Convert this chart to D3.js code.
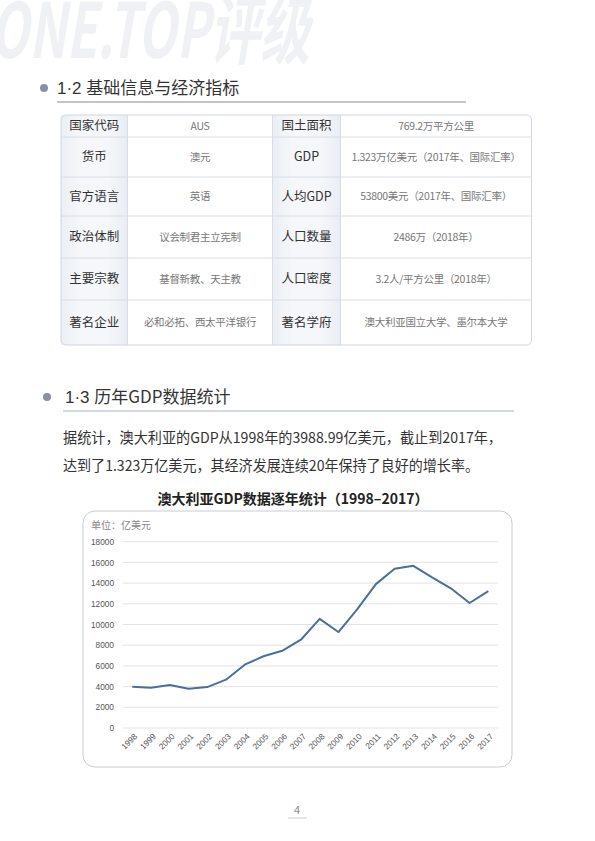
<!DOCTYPE html>
<html><head><meta charset="utf-8">
<script src="https://cdn.jsdelivr.net/npm/d3@7"></script>
<style>
html,body{margin:0;padding:0;background:#fff;}
svg{display:block;font-family:"Noto Sans CJK SC","Noto Sans",sans-serif;}
</style></head>
<body>
<script>
const years = ["1998","1999","2000","2001","2002","2003","2004","2005","2006","2007","2008","2009","2010","2011","2012","2013","2014","2015","2016","2017"];
const gdp = [3989,3890,4150,3790,3950,4670,6120,6930,7460,8530,10540,9270,11460,13900,15380,15670,14550,13500,12080,13230];
const yTicks = [0,2000,4000,6000,8000,10000,12000,14000,16000,18000];
const tableLeftLabels = ["国家代码","货币","官方语言","政治体制","主要宗教","著名企业"];
const tableLeftValues = ["AUS","澳元","英语","议会制君主立宪制","基督新教、天主教","必和必拓、西太平洋银行"];
const tableRightLabels = ["国土面积","GDP","人均GDP","人口数量","人口密度","著名学府"];
const tableRightValues = ["769.2万平方公里","1.323万亿美元（2017年、国际汇率）","53800美元（2017年、国际汇率）","2486万（2018年）","3.2人/平方公里（2018年）","澳大利亚国立大学、墨尔本大学"];
const chartTitle = "澳大利亚GDP数据逐年统计（1998–2017）";
const unitLabel = "单位：亿美元";

const W = 595, H = 841;
const svg = d3.select("body").append("svg").attr("width", W).attr("height", H);

// watermark
svg.append("text").attr("x", -10).attr("y", 58)
  .attr("textLength", 320).attr("lengthAdjust", "spacingAndGlyphs")
  .attr("font-size", 76).attr("font-weight", "bold").attr("font-style", "italic")
  .attr("font-family", "'Liberation Sans Narrow','Noto Sans CJK SC',sans-serif")
  .attr("fill", "#eff1f4").text("ONE.TOP评级");

// section header helper
function section(cx, cy, tx, ty, num, text, lx1, lx2, ly, lineColor) {
  svg.append("circle").attr("cx", cx).attr("cy", cy).attr("r", 4).attr("fill", "#8a8ea6");
  const t = svg.append("text").attr("x", tx).attr("y", ty).attr("font-size", 17).attr("fill", "#333");
  t.append("tspan").attr("font-family", "'Liberation Sans',sans-serif").text(num + " ");
  t.append("tspan").text(text);
  svg.append("line").attr("x1", lx1).attr("x2", lx2).attr("y1", ly).attr("y2", ly)
    .attr("stroke", lineColor).attr("stroke-width", 1);
}
section(44, 88, 57, 94, "1·2", "基础信息与经济指标", 57, 466, 102, "#8c8c8c");
section(47, 397, 65, 403, "1·3", "历年GDP数据统计", 63, 514, 411, "#a7b3c2");

// table
const colX = [61, 127.5, 272.5, 340.5, 531.5];
const rowY = [115, 137, 177, 216, 258, 300, 345];
const tg = svg.append("g");
const defs = svg.append("defs");
const grad = defs.append("linearGradient").attr("id", "lg").attr("x1", 0).attr("x2", 1);
grad.append("stop").attr("offset", "0%").attr("stop-color", "#ebeff4");
grad.append("stop").attr("offset", "30%").attr("stop-color", "#f5f7fa");
grad.append("stop").attr("offset", "70%").attr("stop-color", "#f5f7fa");
grad.append("stop").attr("offset", "100%").attr("stop-color", "#e9edf3");
[0, 2].forEach(ci => {
  tg.append("rect").attr("x", colX[ci]).attr("y", rowY[0]).attr("width", colX[ci + 1] - colX[ci])
    .attr("height", rowY[6] - rowY[0]).attr("fill", "url(#lg)");
});
for (let r = 1; r < 6; r++) {
  tg.append("line").attr("x1", colX[0]).attr("x2", colX[4]).attr("y1", rowY[r]).attr("y2", rowY[r])
    .attr("stroke", "#d8dee6");
}
for (let c = 1; c < 4; c++) {
  tg.append("line").attr("x1", colX[c]).attr("x2", colX[c]).attr("y1", rowY[0]).attr("y2", rowY[6])
    .attr("stroke", "#d8dee6");
}
tg.append("rect").attr("x", colX[0]).attr("y", rowY[0]).attr("width", colX[4] - colX[0])
  .attr("height", rowY[6] - rowY[0]).attr("rx", 5).attr("fill", "none").attr("stroke", "#cfd6df");
function cellText(ci, ri, txt, isLabel) {
  const cx = (colX[ci] + colX[ci + 1]) / 2, cy = (rowY[ri] + rowY[ri + 1]) / 2;
  tg.append("text").attr("x", cx).attr("y", cy).attr("dy", "0.35em").attr("text-anchor", "middle")
    .attr("font-size", isLabel ? 12.5 : 10.5).attr("fill", isLabel ? "#333" : "#777")
    .attr("letter-spacing", isLabel ? 0 : -0.3).text(txt);
}
tableLeftLabels.forEach((t, i) => cellText(0, i, t, true));
tableLeftValues.forEach((t, i) => cellText(1, i, t, false));
tableRightLabels.forEach((t, i) => cellText(2, i, t, true));
tableRightValues.forEach((t, i) => cellText(3, i, t, false));

// paragraph
svg.append("text").attr("x", 63).attr("y", 443).attr("font-size", 14.6).attr("fill", "#333")
  .attr("textLength", 439).attr("lengthAdjust", "spacingAndGlyphs")
  .text("据统计，澳大利亚的GDP从1998年的3988.99亿美元，截止到2017年，");
svg.append("text").attr("x", 63).attr("y", 471).attr("font-size", 14.6).attr("fill", "#333")
  .attr("textLength", 416).attr("lengthAdjust", "spacingAndGlyphs")
  .text("达到了1.323万亿美元，其经济发展连续20年保持了良好的增长率。");

// chart title
svg.append("text").attr("x", 293).attr("y", 504).attr("text-anchor", "middle").attr("font-size", 14)
  .attr("font-weight", "bold").attr("fill", "#222").text(chartTitle);

// chart box
svg.append("rect").attr("x", 83).attr("y", 511).attr("width", 429).attr("height", 256).attr("rx", 12)
  .attr("fill", "#fff").attr("stroke", "#c8ccd2").attr("stroke-width", 1);
svg.append("text").attr("x", 91).attr("y", 529).attr("font-size", 10).attr("fill", "#888").text(unitLabel);

const x = d3.scalePoint().domain(years).range([132.3, 488.3]);
const y = d3.scaleLinear().domain([0, 18000]).range([728, 541.7]);

const gridG = svg.append("g");
gridG.selectAll("line").data(yTicks).join("line")
  .attr("x1", 123).attr("x2", 498).attr("y1", d => y(d)).attr("y2", d => y(d))
  .attr("stroke", "#dcdcdc").attr("stroke-width", 0.8);

const yAxis = svg.append("g").attr("transform", "translate(123,0)")
  .call(d3.axisLeft(y).tickValues(yTicks).tickSize(0).tickPadding(9).tickFormat(d3.format("d")));
yAxis.select(".domain").remove();
yAxis.selectAll("text").attr("font-size", 8.3).attr("fill", "#555").attr("font-family", "'Liberation Sans',sans-serif");

const xAxis = svg.append("g").attr("transform", "translate(0,728)")
  .call(d3.axisBottom(x).tickSize(0).tickPadding(0));
xAxis.select(".domain").remove();
xAxis.selectAll("text").attr("font-size", 8.3).attr("fill", "#555")
  .attr("font-family", "'Liberation Sans',sans-serif")
  .attr("text-anchor", "end").attr("dy", 0).attr("y", 0)
  .attr("transform", "translate(5,9) rotate(-45)");

svg.append("path").datum(gdp)
  .attr("d", d3.line().x((d, i) => x(years[i])).y(d => y(d)))
  .attr("fill", "none").attr("stroke", "#4a6f9b").attr("stroke-width", 2).attr("stroke-linejoin", "round");

// page number
svg.append("text").attr("x", 297).attr("y", 814).attr("text-anchor", "middle").attr("font-size", 11)
  .attr("fill", "#888").text("4");
svg.append("line").attr("x1", 288).attr("x2", 307).attr("y1", 818).attr("y2", 818)
  .attr("stroke", "#ccc").attr("stroke-width", 1);
</script>
</body></html>
